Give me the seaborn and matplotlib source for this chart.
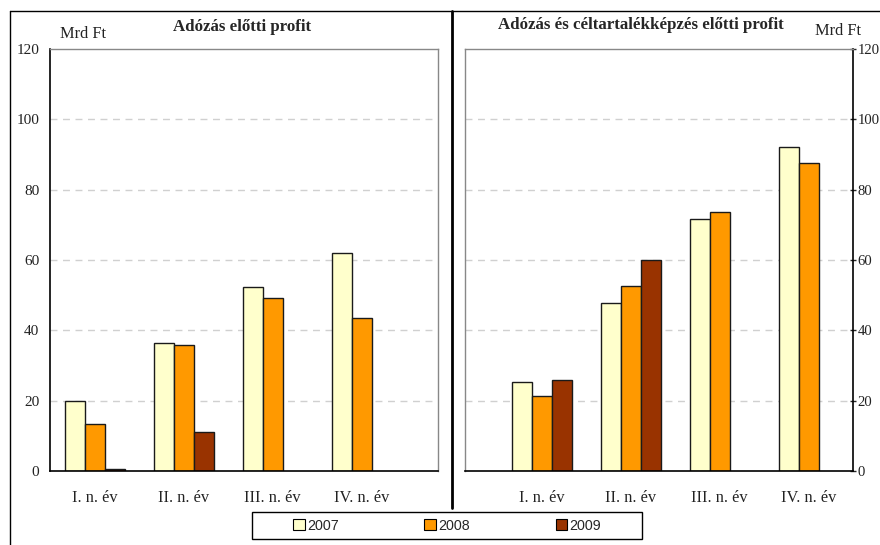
import numpy as np
import pandas as pd
import seaborn as sns
import matplotlib
matplotlib.use("Agg")
import matplotlib.pyplot as plt
from matplotlib.lines import Line2D
from matplotlib.patches import Rectangle, Patch

# ---- data -------------------------------------------------------------
periods = ["I. n. év", "II. n. év", "III. n. év", "IV. n. év"]
years = ["2007", "2008", "2009"]

# Adózás előtti profit (Mrd Ft)
pretax_2007 = [20.0, 36.5, 52.4, 62.0]
pretax_2008 = [13.5, 35.8, 49.3, 43.5]
pretax_2009 = [0.5, 11.1, None, None]

# Adózás és céltartalékképzés előtti profit (Mrd Ft)
preprov_2007 = [25.4, 47.8, 71.7, 92.2]
preprov_2008 = [21.3, 52.6, 73.7, 87.6]
preprov_2009 = [25.8, 60.1, None, None]

yticks = [0, 20, 40, 60, 80, 100, 120]
colors = ["#FFFFCC", "#FF9900", "#993300"]

left_title = "Adózás előtti profit"
right_title = "Adózás és céltartalékképzés előtti profit"
unit = "Mrd Ft"


def to_long(s07, s08, s09):
    rows = []
    for yr, series in zip(years, [s07, s08, s09]):
        for p, v in zip(periods, series):
            rows.append({"period": p, "year": yr, "value": v})
    df = pd.DataFrame(rows)
    return df.dropna(subset=["value"])


df_left = to_long(pretax_2007, pretax_2008, pretax_2009)
df_right = to_long(preprov_2007, preprov_2008, preprov_2009)

# ---- style ------------------------------------------------------------
sns.set_style("white")
plt.rcParams["font.family"] = ["Liberation Serif", "DejaVu Serif"]

W, H = 880, 545
fig = plt.figure(figsize=(W / 100, H / 100), dpi=100)


def fx(px):
    return px / W


def fy(py):
    return 1 - py / H


ax_l = fig.add_axes([fx(50), fy(471), fx(388), 422 / H])
ax_r = fig.add_axes([fx(465), fy(471), fx(388), 422 / H])

pal = dict(zip(years, colors))
for ax, df in [(ax_l, df_left), (ax_r, df_right)]:
    sns.barplot(data=df, x="period", y="value", hue="year", order=periods,
                hue_order=years, palette=pal, width=0.674, gap=0,
                edgecolor="#1a1a1a", linewidth=1.0, saturation=1,
                errorbar=None, legend=False, ax=ax)
    ax.set_ylim(0, 120)
    ax.set_yticks(yticks)
    ax.set_yticklabels([str(t) for t in yticks])
    ax.set_xlabel("")
    ax.set_ylabel("")
    # boundaries between periods as major ticks, names centred as minor ticks
    ax.set_xticks([-0.5, 0.5, 1.5, 2.5, 3.5])
    ax.set_xticklabels([])
    ax.set_xticks(range(len(periods)), minor=True)
    ax.set_xticklabels(periods, minor=True, fontsize=11.8, color="#222222")
    ax.tick_params(axis="x", which="major", direction="out", length=4.3,
                   width=1, color="#555555")
    ax.tick_params(axis="x", which="minor", length=0, pad=13.5)
    ax.grid(False)
    for y in yticks[1:-1]:
        ax.axhline(y, color="#d0d0d0", lw=1, ls=(0, (5, 4)), zorder=0)
    ax.spines["bottom"].set_color("black")
    ax.spines["bottom"].set_linewidth(1.2)
    ax.set_axisbelow(True)

ax_l.set_xlim(-0.5, 3.854)
ax_r.set_xlim(-0.86, 3.5)

# left panel: axis on the left, thin grey frame top and right
ax_l.spines["left"].set_color("black")
ax_l.spines["left"].set_linewidth(1.2)
for s in ["top", "right"]:
    ax_l.spines[s].set_color("#888888")
    ax_l.spines[s].set_linewidth(1.0)
ax_l.tick_params(axis="y", direction="out", length=2.4, width=1,
                 pad=5.2, labelsize=11, labelcolor="#222222")

# right panel: axis on the right, thin grey frame top and left
ax_r.yaxis.tick_right()
ax_r.spines["right"].set_color("black")
ax_r.spines["right"].set_linewidth(1.2)
for s in ["top", "left"]:
    ax_r.spines[s].set_color("#888888")
    ax_r.spines[s].set_linewidth(1.0)
ax_r.tick_params(axis="y", direction="inout", length=5, width=1,
                 pad=0.8, labelsize=10.6, labelcolor="#222222")

# titles and units
fig.text(fx(242.5), fy(31), left_title, ha="center", va="baseline",
         fontsize=12.2, fontweight="bold")
fig.text(fx(640.5), fy(29), right_title, ha="center", va="baseline",
         fontsize=12.2, fontweight="bold")
fig.text(fx(60), fy(38), unit, ha="left", va="baseline", fontsize=11.8,
         color="#222222")
fig.text(fx(815), fy(35), unit, ha="left", va="baseline", fontsize=11.8,
         color="#222222")

# outer frame and panel divider
fig.add_artist(Line2D([fx(10), fx(10)], [fy(11), fy(545)], color="black",
                      lw=1.0, transform=fig.transFigure))
fig.add_artist(Line2D([fx(10), fx(880)], [fy(11), fy(11)], color="black",
                      lw=1.0, transform=fig.transFigure))
fig.add_artist(Line2D([fx(452), fx(452)], [fy(11), fy(508)], color="black",
                      lw=2.0, transform=fig.transFigure))

# legend box
fig.add_artist(Rectangle((fx(252), fy(539)), fx(390), 27 / H, fill=False,
                         edgecolor="black", lw=1.0,
                         transform=fig.transFigure))
handles = [Patch(facecolor=c, edgecolor="black", lw=0.8) for c in colors]
fig.legend(handles, years, loc="center",
           bbox_to_anchor=(fx(447), fy(525.5)), ncol=3, frameon=False,
           handlelength=0.8, handleheight=0.8, handletextpad=0.15,
           columnspacing=6.0,
           prop={"family": ["Liberation Sans", "DejaVu Sans"], "size": 10.3})

fig.savefig("out.png", dpi=100, facecolor="white")
